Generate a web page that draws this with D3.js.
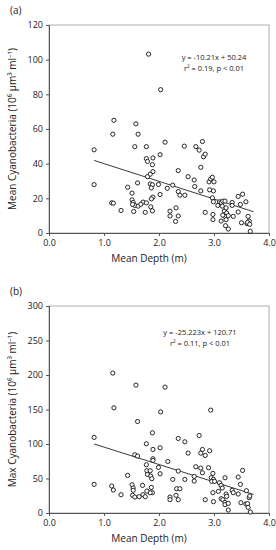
<!DOCTYPE html>
<html><head><meta charset="utf-8">
<script src="https://cdn.jsdelivr.net/npm/d3@7"></script>
<style>body{margin:0;background:#fff}svg{display:block}text{font-family:"Open Sans","Noto Sans",sans-serif;fill:#222}</style>
</head><body><svg id="c" width="276" height="550"></svg>
<script>
const depthA=[1.81,2.03,1.18,1.58,1.16,1.62,2.11,2.79,0.82,1.56,1.77,2.46,2.67,2.73,2.81,2.84,1.77,1.79,1.89,1.88,2.02,2.76,1.89,1.84,1.79,2.35,2.53,2.64,2.65,2.76,2.91,2.94,2.97,3.0,2.92,2.99,0.82,1.61,1.84,1.88,1.86,1.99,2.15,2.25,2.35,2.38,2.47,2.02,1.43,1.51,1.51,1.89,1.86,1.14,1.17,1.53,1.71,1.77,1.56,1.62,1.67,1.52,1.85,2.31,1.31,1.54,1.75,1.88,2.2,2.2,2.35,2.3,2.84,2.97,2.99,3.07,3.1,3.13,3.16,3.2,3.19,3.15,3.22,3.23,3.2,3.16,3.26,2.98,2.98,3.13,3.22,3.21,3.26,3.33,3.33,3.35,3.44,3.44,3.52,3.48,3.58,3.5,3.6,3.62,3.64,3.61,3.65,3.66];
const meanCyano=[103.2,82.7,65,63,57,57,52.4,52.8,48,49.8,49.8,50.1,49.8,47.8,44,45.5,42.9,41.3,43.3,39.4,45.2,37.9,35.4,33.9,32.5,36,32.5,30.6,26.8,24.3,29.5,31.2,32.2,29.5,24.9,24.3,27.9,28.9,28.3,27.8,26,28,25.8,27.6,23.9,21.8,21.8,22.2,26.4,23,19.1,20.7,19.7,17.4,17.2,17.6,17.8,17.4,15.9,15.5,16.6,16.5,15.1,14.5,13,12.4,11.9,12.8,12.6,9.8,9.8,6.7,11.9,20.3,18,15.9,18,17.6,18.4,18.4,12.6,15.5,14.5,11.5,9.6,10.3,9.95,10.7,7.7,6.9,7.7,4.2,2.3,17.6,15.9,9.6,12.1,21.1,22.4,16.5,18,5.9,5.4,9.6,6.9,6.1,5,1];
const depthB=[1.16,1.58,2.11,1.18,2.03,2.94,0.82,1.61,1.88,1.77,1.89,2.02,2.35,2.47,2.53,2.73,2.79,2.76,2.84,2.92,1.56,1.61,1.89,1.89,1.77,1.99,2.16,2.67,2.76,2.9,2.79,2.98,2.35,1.78,1.84,1.79,1.85,1.87,2.02,1.43,2.95,2.99,2.96,3.01,2.64,2.64,2.47,2.25,1.86,1.88,1.84,1.78,0.82,1.14,1.17,1.51,1.53,1.53,1.52,1.7,1.56,1.64,1.71,1.75,1.31,2.2,2.2,2.31,2.32,2.38,2.35,2.84,2.98,2.99,3.08,3.1,3.13,3.15,3.2,3.22,3.23,3.13,3.16,3.2,3.2,3.26,3.26,3.33,3.35,3.44,3.52,3.44,3.48,3.49,3.59,3.58,3.61,3.64,3.62,3.65,3.66];
const maxCyano=[202.8,185.3,182.4,152.4,146.6,149.1,109.5,132.6,116.2,100.3,92.1,94.5,108,103.2,86.8,112.3,92.1,86.8,83.4,90.2,84.4,82.5,78.6,76.2,69.9,66.1,74.7,67,65.1,65.6,58.3,57.4,60.8,61.2,61.2,55.9,53.5,49.7,56.9,54.5,51.1,48.7,45.8,45.8,53,46.3,48.7,48.7,37.1,29.4,29.4,31.8,41.5,39.1,33.3,41,36.2,32.8,25.6,40,23.1,23.6,26.5,23.6,26.5,23.1,19.3,25.6,35.2,35.2,19.3,19.3,29.4,16.4,31.3,43.9,40,36.2,51.1,27.5,24.1,20.7,19.3,15.4,12.1,14,4.3,32.8,29.4,52.1,61.7,27.5,41.5,14.9,32.3,13,13.5,22.2,8.2,24.6,1.4];
const xTicks=[0,1,2,3,4];
const panels=[
 {tag:"(a)",x:depthA,y:meanCyano,yMax:120,yTicks:[0,20,40,60,80,100,120],slope:-10.21,icpt:50.24,
  eq1:"y = -10.21x + 50.24",eq2:"r\u00b2 = 0.19, p < 0.01",ylab:"Mean Cyanobacteria (10\u2076 \u00b5m\u00b3 ml\u207b\u00b9)",
  top:25,bottom:233,tagY:14,eqX:214,eqY:60},
 {tag:"(b)",x:depthB,y:maxCyano,yMax:300,yTicks:[0,50,100,150,200,250,300],slope:-25.223,icpt:120.71,
  eq1:"y = -25.223x + 120.71",eq2:"r\u00b2 = 0.11, p < 0.01",ylab:"Max Cyanobacteria (10\u2076 \u00b5m\u00b3 ml\u207b\u00b9)",
  top:306,bottom:513,tagY:295,eqX:200,eqY:335}
];
const fit=[0.82,3.72];
const svg=d3.select("#c");
const L=49,R=269;
panels.forEach(p=>{
  const g=svg.append("g");
  const x=d3.scaleLinear().domain([0,4]).range([L,R]);
  const y=d3.scaleLinear().domain([0,p.yMax]).range([p.bottom,p.top]);
  g.append("rect").attr("x",L).attr("y",p.top).attr("width",R-L).attr("height",p.bottom-p.top)
    .attr("fill","none").attr("stroke","#999").attr("stroke-width",0.8);
  const ya=g.append("g").attr("transform",`translate(${L},0)`).call(d3.axisLeft(y).tickValues(p.yTicks).tickSize(3).tickPadding(3));
  const xa=g.append("g").attr("transform",`translate(0,${p.bottom})`).call(d3.axisBottom(x).tickValues(xTicks).tickSize(3).tickPadding(4));
  [ya,xa].forEach(a=>{a.selectAll("path,line").attr("stroke","#555");a.selectAll("text").attr("font-size",9).attr("fill","#333").style("font-family","'Open Sans',sans-serif");});
  g.append("line").attr("x1",x(fit[0])).attr("x2",x(fit[1]))
    .attr("y1",y(p.slope*fit[0]+p.icpt)).attr("y2",y(p.slope*fit[1]+p.icpt)).attr("stroke","#222").attr("stroke-width",0.9);
  g.selectAll("circle").data(p.x.map((v,i)=>[v,p.y[i]])).join("circle")
    .attr("cx",d=>x(d[0])).attr("cy",d=>y(d[1])).attr("r",2.1)
    .attr("fill","#fff").attr("stroke","#111").attr("stroke-width",0.9);
  g.append("text").attr("x",10).attr("y",p.tagY).attr("font-size",10).text(p.tag);
  g.append("text").attr("x",p.eqX).attr("y",p.eqY).attr("text-anchor","middle").attr("font-size",7.5).text(p.eq1);
  g.append("text").attr("x",p.eqX).attr("y",p.eqY+11).attr("text-anchor","middle").attr("font-size",7.5).text(p.eq2);
  g.append("text").attr("transform",`translate(16,${(p.top+p.bottom)/2}) rotate(-90)`).attr("text-anchor","middle").attr("font-size",10).text(p.ylab);
  g.append("text").attr("x",149).attr("y",p.bottom+29).attr("text-anchor","middle").attr("font-size",10).text("Mean Depth (m)");
});
</script></body></html>
